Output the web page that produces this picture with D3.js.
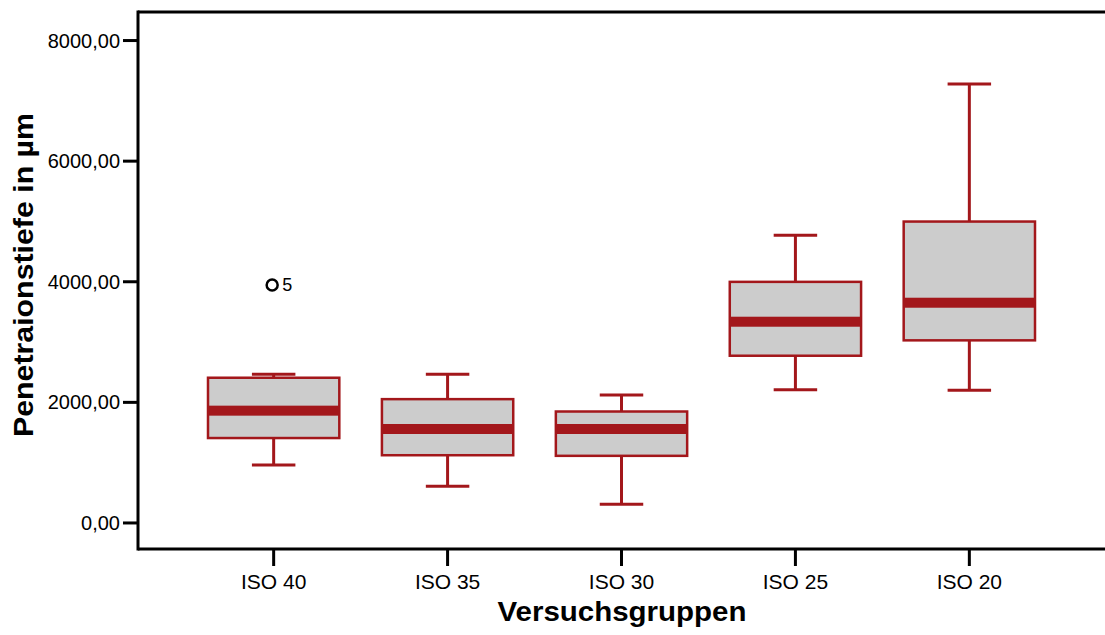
<!DOCTYPE html>
<html>
<head>
<meta charset="utf-8">
<script src="https://cdn.jsdelivr.net/npm/d3@7"></script>
<style>
  body { margin: 0; background: #fff; }
  #viz { width: 1105px; height: 635px; }
  text { font-family: "Liberation Sans", Arial, sans-serif; fill: #000; }
</style>
</head>
<body>
<div id="viz"></div>
<script>
// data
var groups      = ["ISO 40", "ISO 35", "ISO 30", "ISO 25", "ISO 20"];
var whiskerLow  = [953, 600, 302, 2202, 2192];
var q1          = [1400, 1115, 1105, 2765, 3020];
var median      = [1854, 1550, 1550, 3329, 3644];
var q3          = [2400, 2045, 1840, 3990, 4990];
var whiskerHigh = [2457, 2457, 2114, 4762, 7270];
var outliers    = [{group: "ISO 40", value: 3938, label: "5"}];
var yTicks      = [0, 2000, 4000, 6000, 8000];

var width = 1105, height = 635;
var plotLeft = 138, plotTop = 12, plotBottom = 549;
var red = "#a3171b";

var svg = d3.select("#viz").append("svg")
    .attr("width", width)
    .attr("height", height);

var x = d3.scaleBand()
    .domain(groups)
    .range([plotLeft, width])
    .paddingInner(0)
    .paddingOuter(0.28);

var y = d3.scaleLinear()
    .domain([-440, 8465])
    .range([plotBottom, plotTop]);

var de = d3.formatLocale({decimal: ",", thousands: ".", grouping: [3], currency: ["", "€"]});
var fmt = de.format(".2f");

var boxW = x.bandwidth() * 0.755;
var capW = x.bandwidth() * 0.25;

/* frame: left axis, top and bottom lines */
svg.append("line")
    .attr("x1", plotLeft).attr("x2", plotLeft)
    .attr("y1", plotTop - 1.5).attr("y2", plotBottom + 1.5)
    .attr("stroke", "#000").attr("stroke-width", 3);
svg.append("line")
    .attr("x1", plotLeft).attr("x2", width)
    .attr("y1", plotTop).attr("y2", plotTop)
    .attr("stroke", "#000").attr("stroke-width", 3);
svg.append("line")
    .attr("x1", plotLeft).attr("x2", width)
    .attr("y1", plotBottom).attr("y2", plotBottom)
    .attr("stroke", "#000").attr("stroke-width", 3);

/* y axis */
var yAxis = svg.append("g")
    .attr("transform", "translate(" + plotLeft + ",0)")
    .call(d3.axisLeft(y).tickValues(yTicks).tickFormat(fmt).tickSize(15).tickPadding(3));
yAxis.select(".domain").remove();
yAxis.selectAll(".tick line").attr("stroke", "#000").attr("stroke-width", 3);
yAxis.selectAll(".tick text")
    .style("font-size", "20px")
    .style("font-family", "'Liberation Sans', Arial, sans-serif")
    .attr("dy", "0.35em");

/* x axis */
var xAxis = svg.append("g")
    .attr("transform", "translate(0," + plotBottom + ")")
    .call(d3.axisBottom(x).tickSize(17).tickPadding(8));
xAxis.select(".domain").remove();
xAxis.selectAll(".tick line").attr("stroke", "#000").attr("stroke-width", 3);
xAxis.selectAll(".tick text")
    .style("font-size", "21px")
    .style("font-family", "'Liberation Sans', Arial, sans-serif");

/* axis titles */
svg.append("text")
    .attr("x", 622)
    .attr("y", 621)
    .attr("text-anchor", "middle")
    .attr("textLength", 249)
    .attr("lengthAdjust", "spacingAndGlyphs")
    .style("font-size", "27px")
    .style("font-weight", "bold")
    .text("Versuchsgruppen");

svg.append("text")
    .attr("transform", "translate(33,275) rotate(-90)")
    .attr("text-anchor", "middle")
    .attr("textLength", 324)
    .attr("lengthAdjust", "spacingAndGlyphs")
    .style("font-size", "28px")
    .style("font-weight", "bold")
    .text("Penetraionstiefe in µm");

/* boxes */
var boxes = groups.map(function(g, i) {
  return {group: g, low: whiskerLow[i], q1: q1[i], med: median[i], q3: q3[i], high: whiskerHigh[i]};
});

var box = svg.append("g").attr("class", "boxes")
    .selectAll("g")
    .data(boxes)
    .enter().append("g");

function cx(d) { return x(d.group) + x.bandwidth() / 2; }

// whiskers
box.append("line")
    .attr("x1", cx).attr("x2", cx)
    .attr("y1", function(d) { return y(d.high); })
    .attr("y2", function(d) { return y(d.q3); })
    .attr("stroke", red).attr("stroke-width", 3);
box.append("line")
    .attr("x1", cx).attr("x2", cx)
    .attr("y1", function(d) { return y(d.q1); })
    .attr("y2", function(d) { return y(d.low); })
    .attr("stroke", red).attr("stroke-width", 3);
// caps
box.append("line")
    .attr("x1", function(d) { return cx(d) - capW / 2; })
    .attr("x2", function(d) { return cx(d) + capW / 2; })
    .attr("y1", function(d) { return y(d.high); })
    .attr("y2", function(d) { return y(d.high); })
    .attr("stroke", red).attr("stroke-width", 3);
box.append("line")
    .attr("x1", function(d) { return cx(d) - capW / 2; })
    .attr("x2", function(d) { return cx(d) + capW / 2; })
    .attr("y1", function(d) { return y(d.low); })
    .attr("y2", function(d) { return y(d.low); })
    .attr("stroke", red).attr("stroke-width", 3);
// box body
box.append("rect")
    .attr("x", function(d) { return cx(d) - boxW / 2; })
    .attr("y", function(d) { return y(d.q3); })
    .attr("width", boxW)
    .attr("height", function(d) { return y(d.q1) - y(d.q3); })
    .attr("fill", "#cccccc")
    .attr("stroke", red)
    .attr("stroke-width", 2.5);
// median band
box.append("rect")
    .attr("x", function(d) { return cx(d) - boxW / 2; })
    .attr("y", function(d) { return y(d.med) - 5; })
    .attr("width", boxW)
    .attr("height", 10)
    .attr("fill", red);

/* outliers */
var out = svg.append("g").attr("class", "outliers")
    .selectAll("g")
    .data(outliers)
    .enter().append("g")
    .attr("transform", function(d) {
      return "translate(" + (x(d.group) + x.bandwidth() / 2 - 1.5) + "," + y(d.value) + ")";
    });
out.append("circle")
    .attr("r", 5.5)
    .attr("fill", "#fff")
    .attr("stroke", "#000")
    .attr("stroke-width", 2.5);
out.append("text")
    .attr("x", 10)
    .attr("y", 6.5)
    .style("font-size", "18px")
    .text(function(d) { return d.label; });
</script>
</body>
</html>
